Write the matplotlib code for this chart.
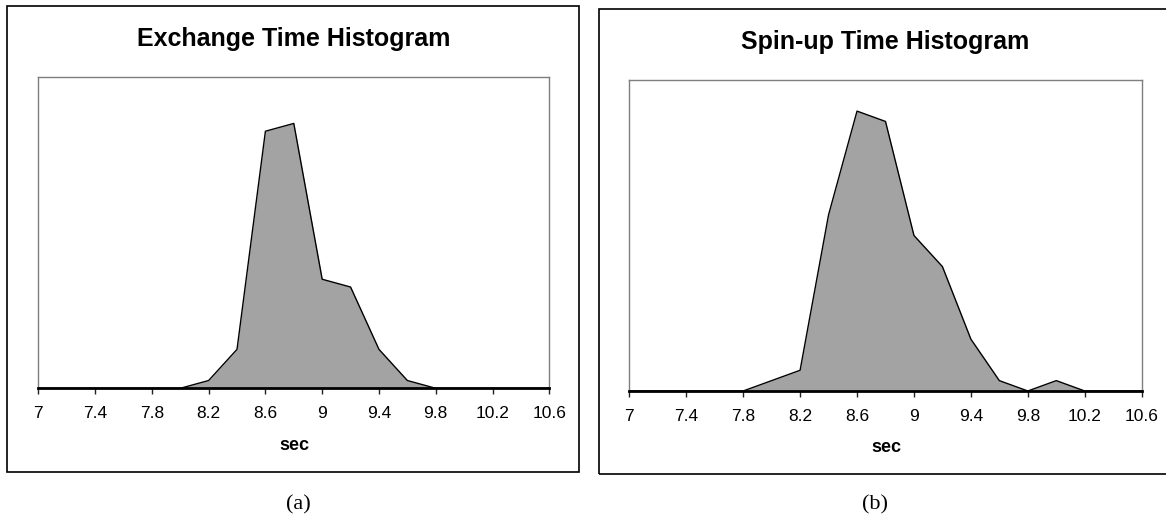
import numpy as np
import matplotlib.pyplot as plt
from matplotlib.patches import Rectangle

# histogram bins (sec) and counts
bins = [7.0, 7.2, 7.4, 7.6, 7.8, 8.0, 8.2, 8.4, 8.6, 8.8, 9.0, 9.2, 9.4,
        9.6, 9.8, 10.0, 10.2, 10.4, 10.6]
exchange_counts = [0, 0, 0, 0, 0, 0, 1, 5, 33, 34, 14, 13, 5, 1, 0, 0, 0, 0, 0]
spinup_counts = [0, 0, 0, 0, 0, 1, 2, 17, 27, 26, 15, 12, 5, 1, 0, 1, 0, 0, 0]
tick_values = [7, 7.4, 7.8, 8.2, 8.6, 9, 9.4, 9.8, 10.2, 10.6]

W, H = 1166, 522
fig = plt.figure(figsize=(W / 100, H / 100), dpi=100)
plt.rcParams['font.family'] = ['Liberation Sans', 'DejaVu Sans']


def px_rect(x0, y0, x1, y1):
    # pixel box (top-left origin) -> figure fraction [l, b, w, h]
    return [x0 / W, 1 - y1 / H, (x1 - x0) / W, (y1 - y0) / H]


def frame(x0, y0, x1, y1):
    l, b, w, h = px_rect(x0, y0, x1, y1)
    fig.patches.append(Rectangle((l, b), w, h, transform=fig.transFigure,
                                 fill=False, edgecolor='black', lw=1.2))


def histo_panel(box, counts, ymax, title, title_xy, sec_xy):
    ax = fig.add_axes(px_rect(*box))
    ax.fill_between(bins, counts, 0, color='#a3a3a3', lw=0)
    ax.plot(bins, counts, color='black', lw=1)
    ax.set_xlim(7, 10.6)
    ax.set_ylim(0, ymax)
    ax.set_yticks([])
    ax.set_xticks(tick_values)
    ax.set_xticklabels(['%g' % v for v in tick_values], fontsize=12.5)
    ax.tick_params(axis='x', length=4, width=1, color='#222222', pad=9)
    for s in ['top', 'left', 'right']:
        ax.spines[s].set_color('#7f7f7f')
        ax.spines[s].set_linewidth(1)
    ax.spines['bottom'].set_color('black')
    ax.spines['bottom'].set_linewidth(2)
    fig.text(title_xy[0] / W, 1 - title_xy[1] / H, title, fontsize=18,
             fontweight='bold', ha='center', va='center')
    fig.text(sec_xy[0] / W, 1 - sec_xy[1] / H, 'sec', fontsize=13,
             fontweight='bold', ha='center', va='center')
    return ax


frame(7.3, 5.7, 579.3, 471.7)
frame(599.3, 9, 1170, 474)

histo_panel((38.3, 76.7, 549.3, 388.3), exchange_counts, 40,
            'Exchange Time Histogram', (294, 39), (294, 446))
histo_panel((629.3, 80, 1141.7, 391), spinup_counts, 30,
            'Spin-up Time Histogram', (885, 42), (886, 448))

fig.text(298 / W, 1 - 505 / H, '(a)', fontsize=16, family='Liberation Serif',
         ha='center', va='center')
fig.text(875 / W, 1 - 505 / H, '(b)', fontsize=16, family='Liberation Serif',
         ha='center', va='center')

fig.savefig('out.png', dpi=100)
